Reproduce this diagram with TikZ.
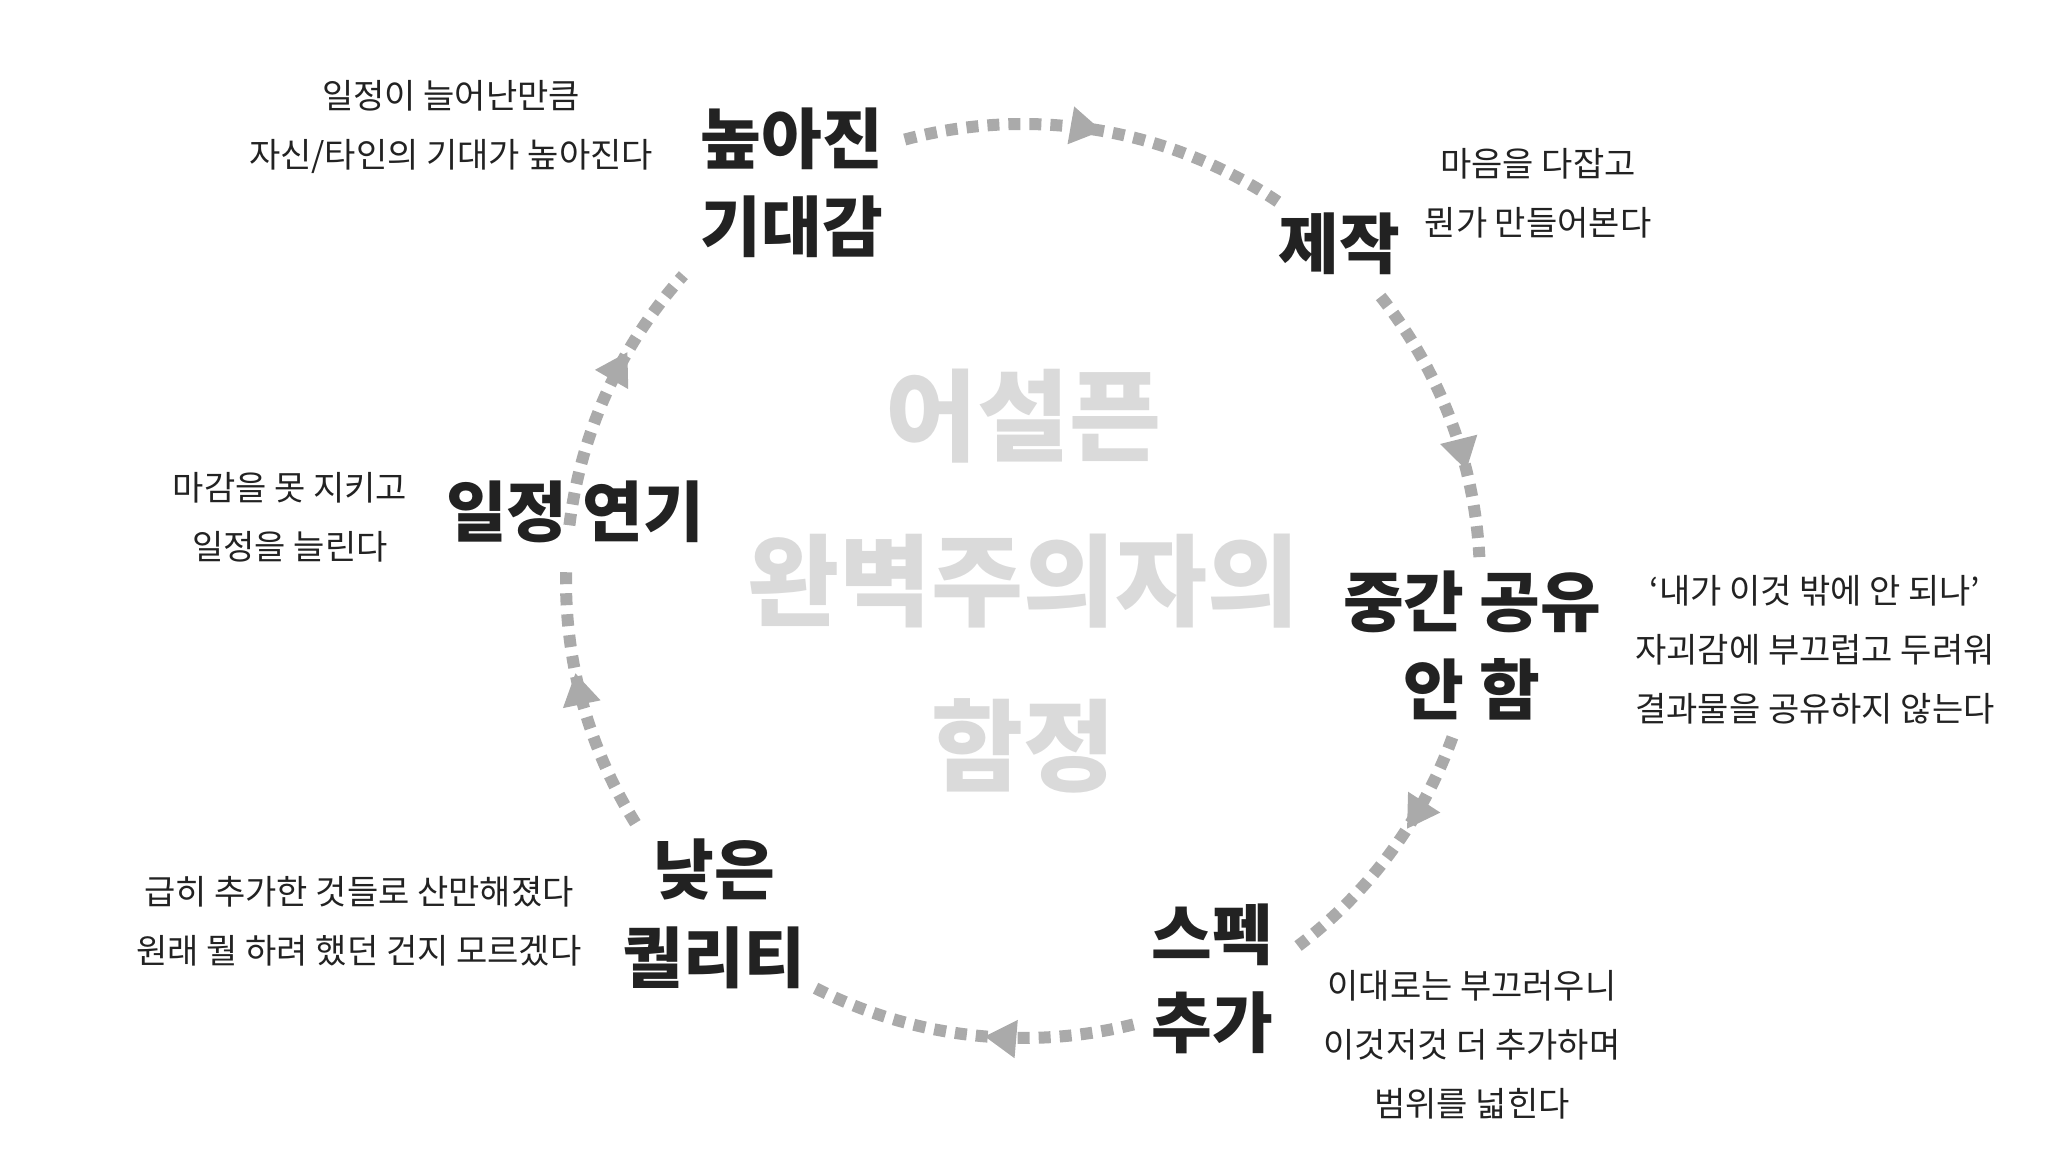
\documentclass[tikz,border=0pt]{standalone}
\usepackage{fontspec}
\setmainfont{Noto Sans CJK KR}
\usetikzlibrary{decorations.markings,arrows.meta}
\definecolor{dotgray}{HTML}{AAAAAA}
\definecolor{ctrgray}{HTML}{DADADA}
\definecolor{txt}{HTML}{222222}
\tikzset{
  big/.style={align=center,text=txt,font=\fontsize{66}{88}\selectfont\bfseries},
  note/.style={align=center,text=txt,font=\fontsize{34}{59}\selectfont},
  flow/.style={draw=dotgray,line width=12pt,dash pattern=on 12pt off 9pt,
    postaction={decorate},decoration={markings,mark=at position #1 with {\arrow[solid,fill=dotgray,draw=none]{Triangle[length=32pt,width=36pt]}}}}
}
\begin{document}
\begin{tikzpicture}[x=1pt,y=1pt]
\useasboundingbox (0,0) rectangle (2048,1152);
\def\r{457}
\coordinate (c) at (1023,571);
\node[text=ctrgray,align=center,font=\fontsize{100}{165}\selectfont\bfseries] (ctr) at (c) {어설픈\\완벽주의자의\\함정};
\node[big] (n1) at (792,969) {높아진\\기대감};
\node[note] (t1) at (451,1025) {일정이 늘어난만큼\\자신/타인의 기대가 높아진다};
\node[big] (n2) at (1339,908) {제작};
\node[note] (t2) at (1538,959) {마음을 다잡고\\뭔가 만들어본다};
\node[big] (n3) at (1472,506) {중간 공유\\안 함};
\node[note] (t3) at (1815,502) {‘내가 이것 밖에 안 되나’\\자괴감에 부끄럽고 두려워\\결과물을 공유하지 않는다};
\node[big] (n4) at (1212,173) {스펙\\추가};
\node[note] (t4) at (1472,107) {이대로는 부끄러우니\\이것저것 더 추가하며\\범위를 넓힌다};
\node[big] (n5) at (714,238) {낮은\\퀄리티};
\node[note] (t5) at (359,231) {급히 추가한 것들로 산만해졌다\\원래 뭘 하려 했던 건지 모르겠다};
\node[big] (n6) at (575,640) {일정 연기};
\node[note] (t6) at (290,635) {마감을 못 지키고\\일정을 늘린다};
\path[flow=0.5]  ([shift={(105:\r)}]c) arc[start angle=105,end angle=55,radius=\r];
\path[flow=0.69] ([shift={(38.5:\r)}]c) arc[start angle=38.5,end angle=3,radius=\r];
\path[flow=0.39] ([shift={(-20:\r)}]c) arc[start angle=-20,end angle=-53,radius=\r];
\path[flow=0.46] ([shift={(-76:\r)}]c) arc[start angle=-76,end angle=-117,radius=\r];
\path[flow=0.6] ([shift={(212:\r)}]c) arc[start angle=212,end angle=178,radius=\r];
\path[flow=0.66] ([shift={(173:\r)}]c) arc[start angle=173,end angle=138,radius=\r];
\end{tikzpicture}
\end{document}
